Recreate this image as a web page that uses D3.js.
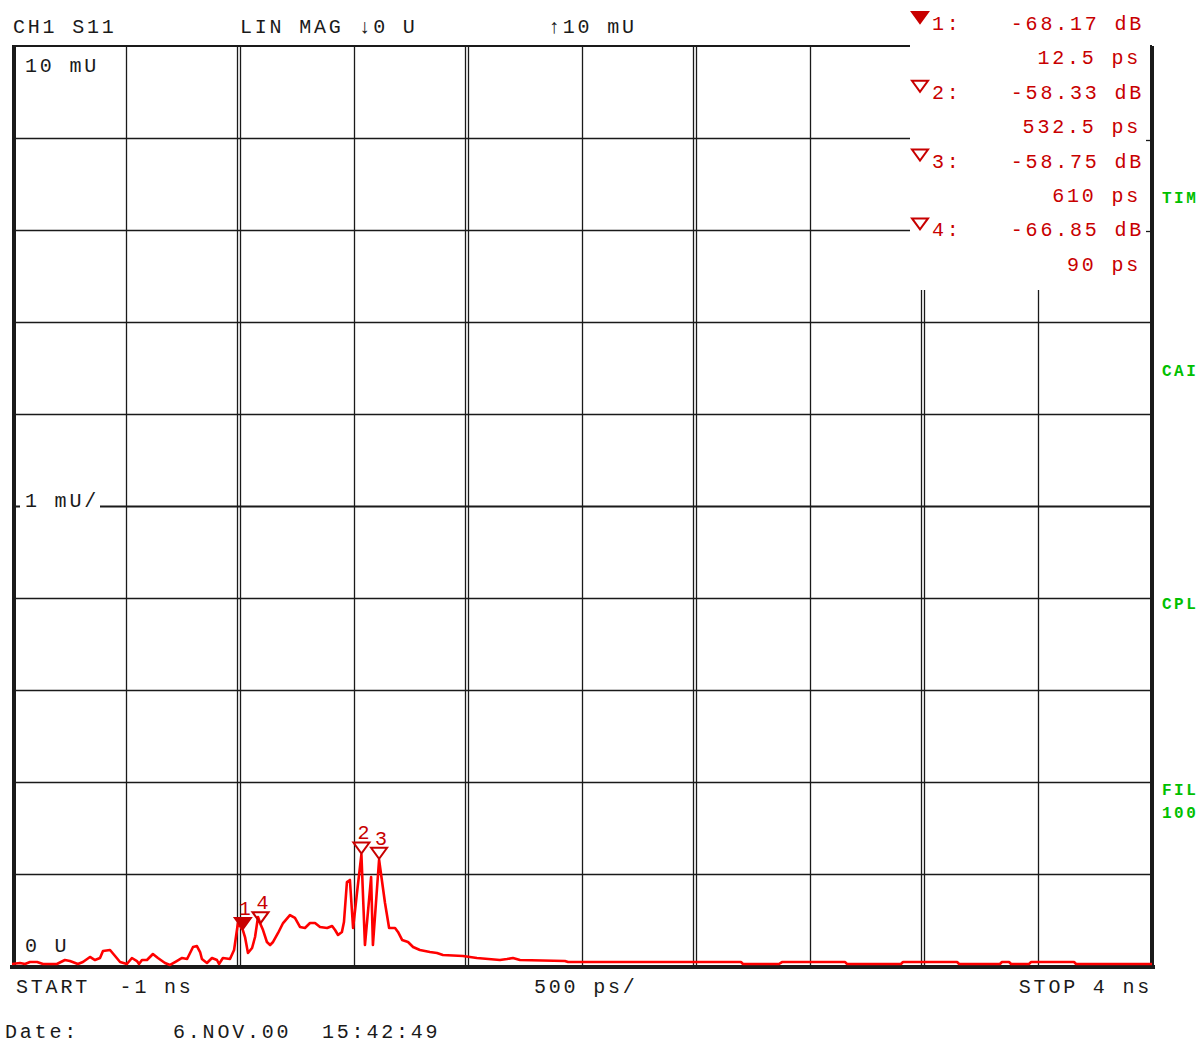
<!DOCTYPE html>
<html>
<head>
<title>S11 time domain</title>
<script src="https://cdn.jsdelivr.net/npm/d3@7"></script>
<style type="text/css">
body {
	margin: 0;
	background: #ffffff;
}
text {
	font-family: "Liberation Mono", "Courier New", monospace;
}
</style>
</head>
<body>
<div id="chart"></div>

<script type="text/javascript">
	// trace: time in ns, magnitude in mU
	var traceTimes = [ -1.000, -0.965, -0.943, -0.921, -0.890, -0.864, -0.803, -0.768, -0.746, -0.711,
			-0.689, -0.658, -0.636, -0.614, -0.601, -0.570, -0.548, -0.526, -0.496, -0.474,
			-0.452, -0.443, -0.430, -0.408, -0.382, -0.360, -0.329, -0.307, -0.285, -0.254,
			-0.232, -0.206, -0.189, -0.175, -0.167, -0.145, -0.123, -0.101, -0.092, -0.075,
			-0.044, -0.026, -0.009, 0.0125, 0.022, 0.035, 0.053, 0.066, 0.079, 0.090,
			0.101, 0.118, 0.132, 0.145, 0.167, 0.189, 0.219, 0.241, 0.263, 0.285,
			0.307, 0.329, 0.351, 0.382, 0.404, 0.417, 0.430, 0.447, 0.456, 0.469,
			0.482, 0.496, 0.513, 0.5325, 0.548, 0.575, 0.583, 0.610, 0.636, 0.654,
			0.680, 0.693, 0.711, 0.737, 0.759, 0.789, 0.833, 0.864, 0.890, 0.978,
			1.039, 1.140, 1.171, 1.197, 1.228, 1.425, 1.439, 2.197, 2.206, 2.364,
			2.377, 2.654, 2.662, 2.899, 2.908, 3.145, 3.154, 3.333, 3.342, 3.373,
			3.382, 3.461, 3.469, 3.658, 3.667, 4.000 ];
	var traceValues = [ 0.022, 0.033, 0.022, 0.043, 0.043, 0.022, 0.022, 0.065, 0.054, 0.022,
			0.043, 0.098, 0.065, 0.087, 0.163, 0.174, 0.109, 0.043, 0.022, 0.087,
			0.054, 0.022, 0.065, 0.065, 0.130, 0.087, 0.033, 0.011, 0.043, 0.087,
			0.076, 0.207, 0.217, 0.152, 0.076, 0.033, 0.087, 0.065, 0.022, 0.087,
			0.076, 0.174, 0.467, 0.390, 0.315, 0.141, 0.196, 0.315, 0.533, 0.454,
			0.391, 0.261, 0.228, 0.261, 0.359, 0.467, 0.554, 0.522, 0.424, 0.413,
			0.467, 0.467, 0.424, 0.413, 0.435, 0.391, 0.337, 0.370, 0.478, 0.913,
			0.935, 0.413, 0.793, 1.212, 0.228, 0.967, 0.228, 1.155, 0.685, 0.413,
			0.413, 0.370, 0.283, 0.261, 0.207, 0.174, 0.152, 0.141, 0.120, 0.109,
			0.087, 0.065, 0.076, 0.087, 0.065, 0.054, 0.043, 0.043, 0.022, 0.022,
			0.043, 0.043, 0.022, 0.022, 0.043, 0.043, 0.022, 0.022, 0.043, 0.043,
			0.022, 0.022, 0.043, 0.043, 0.022, 0.022 ];

	// markers
	var markerIds = [ '1', '2', '3', '4' ];
	var markerTimesPs = [ 12.5, 532.5, 610, 90 ];
	var markerDb = [ -68.17, -58.33, -58.75, -66.85 ];
	var markerTimeLabels = [ '12.5 ps', '532.5 ps', '610 ps', '90 ps' ];

	// axis settings and labels
	var xStart = -1, xStop = 4, xDiv = 0.5;
	var yBottom = 0, yTop = 10, yDiv = 1;
	var headerLabels = [ 'CH1 S11', 'LIN MAG \u21930 U', '\u219110 mU' ];
	var footerLabels = [ 'START  -1 ns', '500 ps/', 'STOP 4 ns' ];
	var dateLabels = [ 'Date:', '6.NOV.00', '15:42:49' ];
	var sideLabels = [ 'TIM', 'CAI', 'CPL', 'FIL', '100' ];

	var width = 1204, height = 1043;
	var pLeft = 12, pRight = 1152, pTop = 46, pBottom = 966;
	var dark = '#1a1a1a', red = '#ff0000', mred = '#c80000', green = '#00c000';

	var x = d3.scaleLinear().domain([ xStart, xStop ]).range([ pLeft, pRight ]);
	var y = d3.scaleLinear().domain([ yBottom, yTop ]).range([ pBottom, pTop ]);

	var svg = d3.select('#chart').append('svg')
			.attr('width', width).attr('height', height);

	svg.append('rect').attr('width', width).attr('height', height).attr('fill', 'white');

	function txt(g, s, px, py, opts) {
		opts = opts || {};
		return g.append('text')
				.attr('x', px).attr('y', py)
				.attr('fill', opts.fill || dark)
				.attr('font-size', opts.size || 20)
				.attr('font-weight', opts.weight || 'normal')
				.attr('letter-spacing', opts.spacing == null ? 2.8 : opts.spacing)
				.attr('text-anchor', opts.anchor || 'start')
				.attr('xml:space', 'preserve')
				.text(s);
	}

	// grid
	var grid = svg.append('g');
	var xTicks = d3.range(xStart, xStop + 1e-9, xDiv);
	var yTicks = d3.range(yBottom, yTop + 1e-9, yDiv);

	grid.selectAll('line.h').data(yTicks.slice(1, -1)).enter()
			.append('line').attr('class', 'h')
			.attr('x1', pLeft).attr('x2', pRight)
			.attr('y1', function(d) { return Math.round(y(d)) + 0.5; })
			.attr('y2', function(d) { return Math.round(y(d)) + 0.5; })
			.attr('stroke', dark)
			.attr('stroke-width', function(d) { return d === 5 ? 2 : 1.3; });

	grid.selectAll('line.v').data(xTicks.slice(1, -1)).enter()
			.append('line').attr('class', 'v')
			.attr('x1', function(d) { return Math.round(x(d)) + 0.5; })
			.attr('x2', function(d) { return Math.round(x(d)) + 0.5; })
			.attr('y1', pTop).attr('y2', pBottom)
			.attr('stroke', dark).attr('stroke-width', 1.3);

	// double lines on whole ns
	grid.selectAll('line.v2').data(xTicks.filter(function(d) {
		return d > xStart && d < xStop && Math.abs(d - Math.round(d)) < 1e-9;
	})).enter()
			.append('line').attr('class', 'v2')
			.attr('x1', function(d) { return Math.round(x(d)) - 2.5; })
			.attr('x2', function(d) { return Math.round(x(d)) - 2.5; })
			.attr('y1', pTop).attr('y2', pBottom)
			.attr('stroke', dark).attr('stroke-width', 1.3);

	// frame
	svg.append('line').attr('x1', pLeft).attr('x2', pRight).attr('y1', pTop).attr('y2', pTop)
			.attr('stroke', dark).attr('stroke-width', 2);
	svg.append('rect').attr('x', pLeft).attr('y', pTop).attr('width', 4).attr('height', pBottom - pTop + 2)
			.attr('fill', dark);
	svg.append('rect').attr('x', 10).attr('y', pBottom - 1).attr('width', pRight - 10 + 3).attr('height', 4)
			.attr('fill', dark);
	svg.append('rect').attr('x', pRight - 2).attr('y', pTop).attr('width', 4).attr('height', pBottom - pTop + 3)
			.attr('fill', dark);

	// plot labels with white backing
	svg.append('rect').attr('x', 20).attr('y', 490).attr('width', 80).attr('height', 20).attr('fill', 'white');
	txt(svg, '10 mU', 25, 72);
	txt(svg, '1 mU/', 25, 507);
	txt(svg, '0 U', 25, 952);

	// trace
	var traceData = d3.zip(traceTimes, traceValues);
	var line = d3.line()
			.x(function(d) { return x(d[0]); })
			.y(function(d) { return y(d[1]); });
	svg.append('path').datum(traceData)
			.attr('d', line)
			.attr('fill', 'none')
			.attr('stroke', red)
			.attr('stroke-width', 2.6)
			.attr('stroke-linejoin', 'round');

	// markers on trace
	var markers = markerIds.map(function(id, i) {
		return {
			id : id,
			t : markerTimesPs[i] / 1000,
			v : 1000 * Math.pow(10, markerDb[i] / 20),
			db : markerDb[i],
			tl : markerTimeLabels[i]
		};
	});

	function tri(px, py) {
		return 'M' + (px - 8) + ',' + (py - 11) + 'L' + (px + 8) + ',' + (py - 11) + 'L' + px + ',' + py + 'Z';
	}

	var mg = svg.append('g');
	mg.selectAll('path').data(markers).enter()
			.append('path')
			.attr('d', function(d) { return tri(x(d.t), y(d.v) - 1); })
			.attr('fill', function(d, i) { return i === 0 ? mred : 'none'; })
			.attr('stroke', mred).attr('stroke-width', 2);
	mg.selectAll('text').data(markers).enter()
			.append('text')
			.attr('x', function(d) { return x(d.t) + 2; })
			.attr('y', function(d) { return y(d.v) - 15; })
			.attr('fill', mred).attr('font-size', 20)
			.attr('text-anchor', 'middle')
			.text(function(d) { return d.id; });

	// readout box
	svg.append('rect').attr('x', 910).attr('y', 0).attr('width', pRight - 2 - 910).attr('height', 290)
			.attr('fill', 'white');
	svg.append('rect').attr('x', pRight - 2).attr('y', 0).attr('width', 10).attr('height', pTop - 1)
			.attr('fill', 'white');
	[ 140, 231 ].forEach(function(py) {
		svg.append('line').attr('x1', pRight - 6).attr('x2', pRight).attr('y1', py + 0.5).attr('y2', py + 0.5)
				.attr('stroke', dark).attr('stroke-width', 1.3);
	});

	var rowStep = 34.4;
	markers.forEach(function(d, i) {
		var by = 30 + i * 2 * rowStep;
		svg.append('path').attr('d', tri(920, by - 7))
				.attr('fill', i === 0 ? mred : 'none')
				.attr('stroke', mred).attr('stroke-width', 2);
		txt(svg, d.id + ':', 932, by, { fill : mred });
		txt(svg, d.db.toFixed(2) + ' dB', 1144, by, { fill : mred, anchor : 'end' });
		txt(svg, d.tl, 1141, by + rowStep, { fill : mred, anchor : 'end' });
	});

	// header / footer
	txt(svg, headerLabels[0], 13, 33);
	txt(svg, headerLabels[1], 240, 33);
	txt(svg, headerLabels[2], 548, 33);
	txt(svg, footerLabels[0], 16, 993);
	txt(svg, footerLabels[1], 534, 993);
	txt(svg, footerLabels[2], 1152, 993, { anchor : 'end' });
	txt(svg, dateLabels[0], 5, 1038);
	txt(svg, dateLabels[1], 173, 1038);
	txt(svg, dateLabels[2], 322, 1038);

	// side softkey labels
	var sideY = [ 203, 376, 609, 795, 818 ];
	sideLabels.forEach(function(s, i) {
		txt(svg, s, 1162, sideY[i], { fill : green, size : 16, weight : 'bold', spacing : 2.5 });
	});
</script>
</body>
</html>
